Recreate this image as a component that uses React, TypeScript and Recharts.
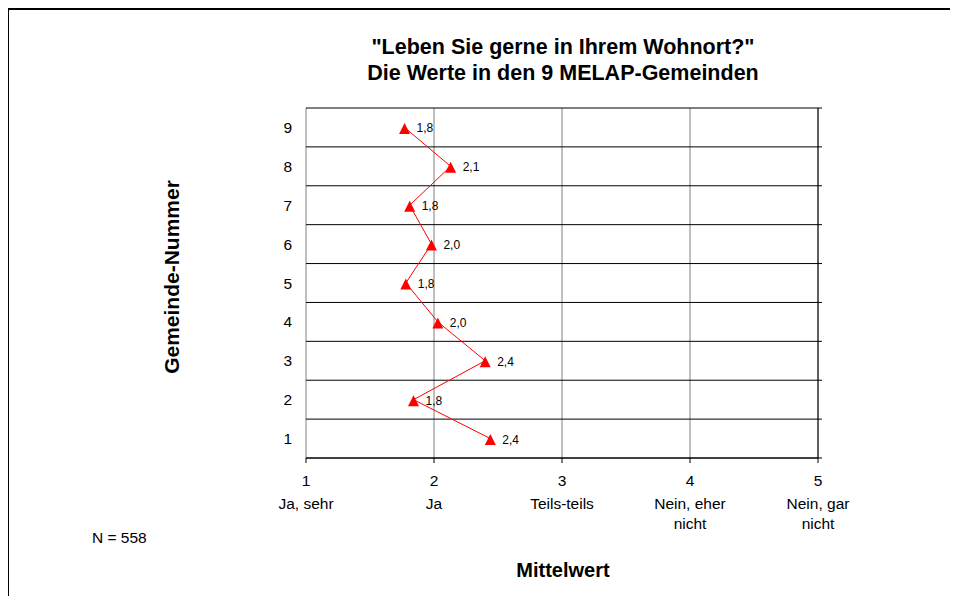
import { ScatterChart, Scatter, XAxis, YAxis, CartesianGrid } from 'recharts';

// Gemeinde-Nummer und Mittelwert
const gemeinden = [1, 2, 3, 4, 5, 6, 7, 8, 9];
const mittelwerte = [2.44, 1.84, 2.4, 2.03, 1.78, 1.98, 1.81, 2.13, 1.77];

const xTicks = [1, 2, 3, 4, 5];
const xTickTexte = [['Ja, sehr'], ['Ja'], ['Teils-teils'], ['Nein, eher', 'nicht'], ['Nein, gar', 'nicht']];
const yTicks = [1, 2, 3, 4, 5, 6, 7, 8, 9];
const gridTicks = [0.5, 1.5, 2.5, 3.5, 4.5, 5.5, 6.5, 7.5, 8.5, 9.5];

const titel = ['"Leben Sie gerne in Ihrem Wohnort?"', 'Die Werte in den 9 MELAP-Gemeinden'];

const data = gemeinden.map((nr, i) => ({ nr, wert: mittelwerte[i] }));

const FONT = '"Liberation Sans", Arial, sans-serif';

const fmt = (v: number) => v.toFixed(1).replace('.', ',');

function Dreieck(props: any) {
    const { cx, cy, payload } = props;
    return (
        <g>
            <polygon
                points={`${cx},${cy - 4.5} ${cx + 5.5},${cy + 6.5} ${cx - 5.5},${cy + 6.5}`}
                fill="#ff0000"
            />
            <text x={cx + 12} y={cy + 5} fontSize={12} fontFamily={FONT} fill="#000">
                {fmt(payload.wert)}
            </text>
        </g>
    );
}

function XTick(props: any) {
    const { x, y, payload } = props;
    const i = xTicks.indexOf(payload.value);
    const zeilen = [String(payload.value), ...(xTickTexte[i] || [])];
    const offsets = [23, 46, 66];
    return (
        <g>
            {zeilen.map((z, k) => (
                <text key={k} x={x} y={y + offsets[k]} textAnchor="middle" fontSize={15.5} fontFamily={FONT} fill="#000">
                    {z}
                </text>
            ))}
        </g>
    );
}

const LeerTick = () => <g />;
const KeinPunkt = () => <g />;

export default function App() {
    return (
        <div style={{ position: 'relative', width: 950, height: 588, fontFamily: FONT }}>
            <div
                style={{
                    position: 'absolute', left: -1, top: 0, width: 951, height: 588,
                    borderLeft: '2px solid #000', borderTop: '2px solid #000', boxSizing: 'border-box',
                }}
            />
            <ScatterChart width={950} height={588} margin={{ top: 100, right: 139, left: 238, bottom: 78 }}>
                <CartesianGrid horizontal={false} stroke="#808080" />
                <CartesianGrid vertical={false} stroke="#000" />
                <XAxis
                    type="number"
                    dataKey="wert"
                    domain={[1, 5]}
                    ticks={xTicks}
                    interval={0}
                    height={60}
                    tickSize={5}
                    tickMargin={0}
                    stroke="#000"
                    tick={<XTick />}
                />
                <YAxis
                    type="number"
                    dataKey="nr"
                    domain={[0.5, 9.5]}
                    ticks={gridTicks}
                    interval={0}
                    width={0}
                    tickSize={5}
                    tick={<LeerTick />}
                    stroke="#000"
                />
                <YAxis
                    yAxisId="lab"
                    type="number"
                    dataKey="nr"
                    domain={[0.5, 9.5]}
                    ticks={yTicks}
                    interval={0}
                    width={60}
                    axisLine={false}
                    tickLine={false}
                    tickSize={0}
                    tickMargin={14}
                    tick={{ fill: '#000', fontSize: 15.5, fontFamily: FONT }}
                />
                <YAxis
                    yAxisId="gridR"
                    orientation="right"
                    type="number"
                    dataKey="nr"
                    domain={[0.5, 9.5]}
                    ticks={gridTicks}
                    interval={0}
                    width={1}
                    tickSize={4}
                    tick={<LeerTick />}
                    stroke="#000"
                />
                <Scatter data={data} shape={<KeinPunkt />} isAnimationActive={false} />
                <Scatter yAxisId="gridR" data={data} shape={<KeinPunkt />} isAnimationActive={false} />
                <Scatter
                    yAxisId="lab"
                    data={data}
                    line={{ stroke: '#ff0000', strokeWidth: 1 }}
                    lineType="joint"
                    shape={<Dreieck />}
                    isAnimationActive={false}
                />
            </ScatterChart>
            <svg width={950} height={588} style={{ position: 'absolute', left: 0, top: 0, pointerEvents: 'none' }}>
                <text x={555} y={46} textAnchor="middle" fontSize={21.5} fontWeight="bold" fontFamily={FONT}>{titel[0]}</text>
                <text x={555} y={72} textAnchor="middle" fontSize={21.5} fontWeight="bold" fontFamily={FONT}>{titel[1]}</text>
                <text x={555} y={569} textAnchor="middle" fontSize={20} fontWeight="bold" fontFamily={FONT}>Mittelwert</text>
                <text
                    x={171}
                    y={269}
                    textAnchor="middle"
                    fontSize={21}
                    fontWeight="bold"
                    fontFamily={FONT}
                    transform="rotate(-90 171 269)"
                >
                    Gemeinde-Nummer
                </text>
                <text x={84} y={535} fontSize={15.5} fontFamily={FONT}>N = 558</text>
            </svg>
        </div>
    );
}
